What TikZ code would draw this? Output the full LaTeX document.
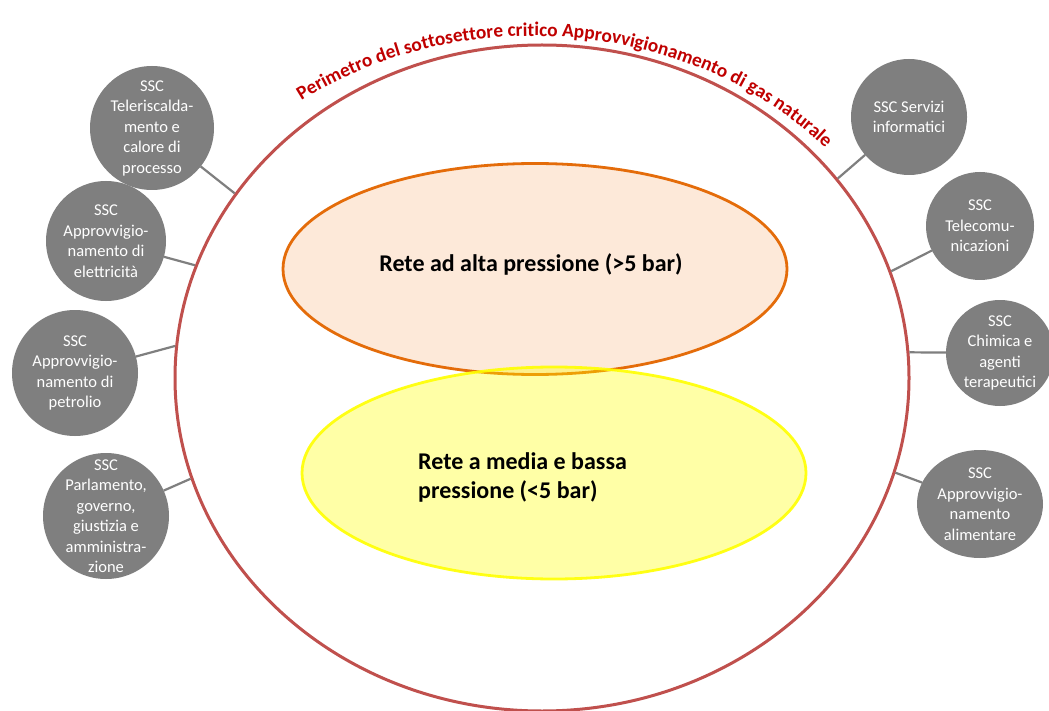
\documentclass[tikz,border=0pt]{standalone}
\usepackage{fontspec}
\setmainfont{Carlito}
\usetikzlibrary{shapes.geometric,decorations.text}
\definecolor{perimred}{HTML}{C0504D}
\definecolor{titlered}{HTML}{C00000}
\definecolor{sscgrey}{HTML}{7F7F7F}
\definecolor{orangeline}{HTML}{E46C0A}
\definecolor{peach}{HTML}{FDE9D9}
\definecolor{yell}{HTML}{FFFF00}
\begin{document}
\begin{tikzpicture}[x=1pt,y=-1pt,
  ssc/.style={circle, fill=sscgrey, inner sep=0pt, outer sep=0pt},
  sscoval/.style={ellipse, fill=sscgrey, inner sep=0pt, outer sep=0pt},
  ssctext/.style={text=white, align=center, inner sep=0pt, font=\fontsize{16.5}{20.5}\selectfont},
  link/.style={draw=sscgrey, line width=2.2pt},
  mainlabel/.style={font=\fontsize{24}{29}\selectfont\bfseries, inner sep=0pt}]
\useasboundingbox (0,0) rectangle (1049,711);
\fill[white] (0,0) rectangle (1049,711);

% perimeter
\node[ellipse, draw=perimred, line width=3pt, minimum width=734pt, minimum height=666pt, inner sep=0pt] (perim) at (542,378) {};
\path[decorate, decoration={text along path, text align=center, text color=titlered,
  text={|\fontsize{19.3}{23}\selectfont\bfseries|Perimetro del sottosettore critico Approvvigionamento di gas naturale}}]
  (533,378) ++(-135:395 and 342) arc[start angle=-135, end angle=-32.9, x radius=395, y radius=342];

% networks
\node[ellipse, draw=orangeline, fill=peach, line width=2.8pt, minimum width=504pt, minimum height=211pt, inner sep=0pt] (alta) at (535,269) {};
\node[ellipse, draw=yell, fill=yell, fill opacity=0.35, draw opacity=0.9, line width=2.8pt, minimum width=504pt, minimum height=212pt, inner sep=0pt] (media) at (554,473) {};
\node[mainlabel, anchor=base] (altatxt) at (531,272) {Rete ad alta pressione (>5 bar)};
\node[mainlabel, anchor=base west] (medtxt1) at (418,469) {Rete a media e bassa};
\node[mainlabel, anchor=base west] (medtxt2) at (418,498) {pressione (<5 bar)};

% left circles
\node[ssc, minimum size=124pt] (c1) at (152,128) {};
\node[ssctext] at (c1) {SSC\\Teleriscalda-\\mento e\\calore di\\processo};
\node[ssc, minimum size=120pt] (c2) at (106,241) {};
\node[ssctext] at (c2) {SSC\\Approvvigio-\\namento di\\elettricità};
\node[ssc, minimum size=126pt] (c3) at (75,373) {};
\node[ssctext] at (c3) {SSC\\Approvvigio-\\namento di\\petrolio};
\node[ssc, minimum size=126pt] (c4) at (106,516) {};
\node[ssctext] at (c4) {SSC\\Parlamento,\\governo,\\giustizia e\\amministra-\\zione};

% right circles
\node[ssc, minimum size=116pt] (r1) at (909,117) {};
\node[ssctext] at (r1) {SSC Servizi\\informatici};
\node[ssc, minimum size=108pt] (r2) at (980,226) {};
\node[ssctext] at (r2) {SSC\\Telecomu-\\nicazioni};
\node[sscoval, minimum width=108pt, minimum height=106pt] (r3) at (1000,353) {};
\node[ssctext] at (r3) {SSC\\Chimica e\\agenti\\terapeutici};
\node[sscoval, minimum width=126pt, minimum height=108pt] (r4) at (980,504) {};
\node[ssctext] at (r4) {SSC\\Approvvigio-\\namento\\alimentare};

% connectors
\draw[link] (c1) -- (perim.149.7);
\draw[link] (c2) -- (perim.162);
\draw[link] (c3) -- (perim.175.2);
\draw[link] (c4) -- (perim.196.2);
\draw[link] (r1) -- (perim.34);
\draw[link] (r2) -- (perim.17.4);
\draw[link] (r3) -- (perim.4);
\draw[link] (r4) -- (perim.-15.2);
\end{tikzpicture}
\end{document}
